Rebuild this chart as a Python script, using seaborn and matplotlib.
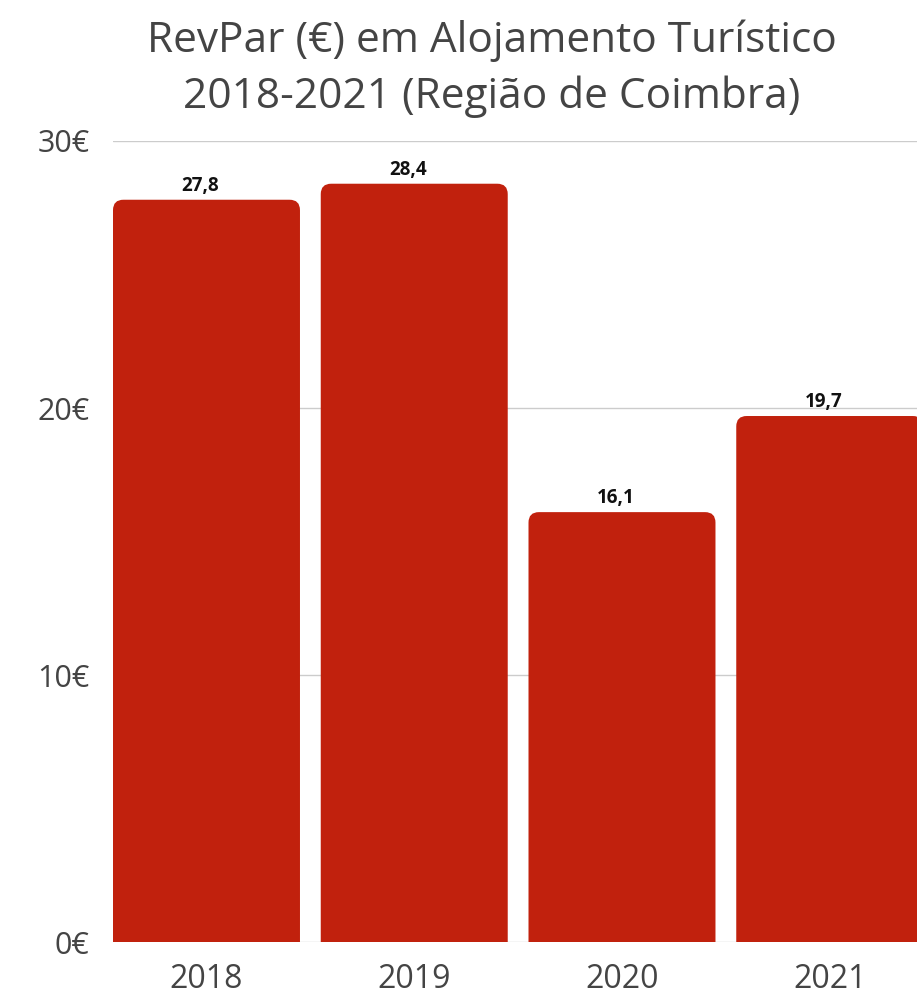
import matplotlib
matplotlib.use("Agg")
import matplotlib.pyplot as plt
from matplotlib.patches import FancyBboxPatch
import seaborn as sns
import pandas as pd

years = ["2018", "2019", "2020", "2021"]
revpar = [27.8, 28.4, 16.1, 19.7]
value_labels = ["27,8", "28,4", "16,1", "19,7"]
y_ticks = [0, 10, 20, 30]
y_tick_labels = ["0€", "10€", "20€", "30€"]
title_lines = "RevPar (€) em Alojamento Turístico\n2018-2021 (Região de Coimbra)"

sns.set_theme(style="white")
plt.rcParams["font.family"] = ["Open Sans", "DejaVu Sans"]

BAR = "#C1210D"
fig = plt.figure(figsize=(9.17, 9.97), dpi=100)
ax = fig.add_axes([113 / 917, 55 / 997, 1 - 113 / 917, 801 / 997])

df = pd.DataFrame({"year": years, "revpar": revpar})
sns.barplot(data=df, x="year", y="revpar", color=BAR, width=0.9, ax=ax,
            saturation=1, zorder=3)

ax.set_ylim(0, 30)
ax.set_xlim(-0.45, 3.42)

# replace bars by rounded-top bars, using the library's patch geometry
rs = 0.05
aspect = (801 / 30) / (804 / 3.87)
for p, lab in zip(list(ax.patches), value_labels):
    x0, w, h = p.get_x(), p.get_width(), p.get_height()
    p.set_visible(False)
    fb = FancyBboxPatch((x0, -2), w, h + 2,
                        boxstyle=f"round,pad=0,rounding_size={rs}",
                        mutation_aspect=1 / aspect,
                        facecolor=BAR, edgecolor="none", zorder=3,
                        clip_on=True)
    ax.add_patch(fb)
    ax.annotate(lab, (x0 + w / 2 - 0.03, h), xytext=(0, 3), textcoords="offset points",
                ha="center", va="bottom", fontsize=13.5, fontweight="bold",
                color="#111111")

ax.set_yticks(y_ticks)
ax.set_yticklabels(y_tick_labels)
ax.grid(axis="y", color="#cccccc", linewidth=1, zorder=0)
ax.tick_params(axis="y", length=0, pad=17, labelsize=22, labelcolor="#444444")
ax.tick_params(axis="x", length=0, pad=15, labelsize=23, labelcolor="#444444")
ax.set_xlabel("")
ax.set_ylabel("")
for s in ax.spines.values():
    s.set_visible(False)

fig.text(492 / 917, 1 - 19 / 997, title_lines, ha="center", va="top",
         fontsize=30.5, color="#444444", linespacing=1.42)

fig.savefig("out.png", dpi=100, facecolor="white")
